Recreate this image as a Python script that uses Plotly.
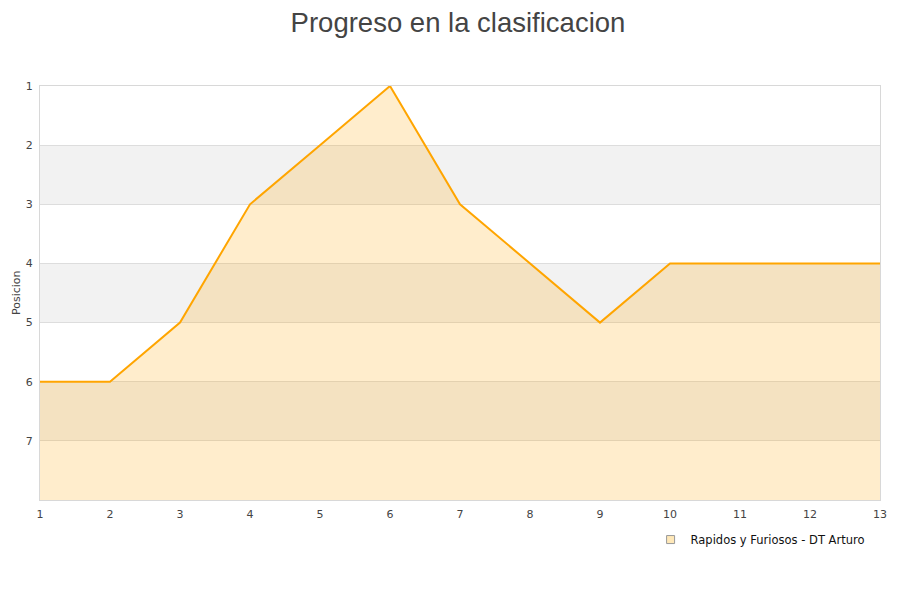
import plotly.graph_objects as go

jornadas = list(range(1, 14))
posiciones = [6, 6, 5, 3, 2, 1, 3, 4, 5, 4, 4, 4, 4]
team = "Rapidos y Furiosos - DT Arturo"
y_ticks = [1, 2, 3, 4, 5, 6, 7]

fig = go.Figure()

# baseline for filling down to the bottom of the reversed axis
fig.add_trace(go.Scatter(x=jornadas, y=[8] * len(jornadas), mode="lines",
                         line=dict(width=0, color="rgba(0,0,0,0)"),
                         showlegend=False, hoverinfo="skip"))
fig.add_trace(go.Scatter(x=jornadas, y=posiciones, mode="lines", name=team,
                         line=dict(color="#FFA500", width=2),
                         fill="tonexty", fillcolor="rgba(255,166,0,0.2)",
                         showlegend=False))
# legend entry
fig.add_trace(go.Scatter(x=[None], y=[None], mode="markers", name=team,
                         marker=dict(symbol="square", size=8, color="#FFE8B8",
                                     line=dict(color="#999999", width=1))))

shapes = []
for lo in [2, 4, 6]:
    shapes.append(dict(type="rect", xref="paper", yref="y", x0=0, x1=1,
                       y0=lo, y1=lo + 1, fillcolor="#F2F2F2", line=dict(width=0),
                       layer="below"))

fig.update_layout(
    width=900, height=600,
    paper_bgcolor="white", plot_bgcolor="white",
    margin=dict(l=32, r=28, t=78, b=108, autoexpand=False),
    title=dict(text="Progreso en la clasificacion", x=0.5, xanchor="center",
               y=1 - 5 / 600, yanchor="top", pad=dict(t=0),
               font=dict(family="Liberation Sans, Arial, sans-serif", size=27.5, color="#444444")),
    font=dict(family="DejaVu Sans, Verdana, sans-serif", size=11, color="#444444"),
    shapes=shapes,
    showlegend=True,
    legend=dict(x=0.9876, xanchor="right", y=-0.0605, yanchor="top",
                font=dict(size=11.5, color="#111111"), bgcolor="rgba(0,0,0,0)",
                itemwidth=30),
    annotations=[dict(text="Posicion", xref="paper", yref="paper",
                      x=-32 / 840, xanchor="center", xshift=8, y=0.5,
                      yanchor="middle", textangle=-90, showarrow=False,
                      font=dict(size=11, color="#444444"))],
    xaxis=dict(range=[1, 13], tickvals=jornadas, showgrid=False, zeroline=False,
               showline=True, linecolor="#D8D8D8", mirror=True, ticks="",
               ticklabelstandoff=4, automargin=False,
               tickfont=dict(size=11, color="#444444")),
    yaxis=dict(range=[8, 1], tickvals=y_ticks, showgrid=True, gridcolor="#DDDDDD",
               zeroline=False, showline=True, linecolor="#D8D8D8", mirror=True,
               ticks="", ticklabelstandoff=4, automargin=False,
               tickfont=dict(size=11, color="#444444"),
               layer="above traces"),
)

fig.write_html("out.html")
